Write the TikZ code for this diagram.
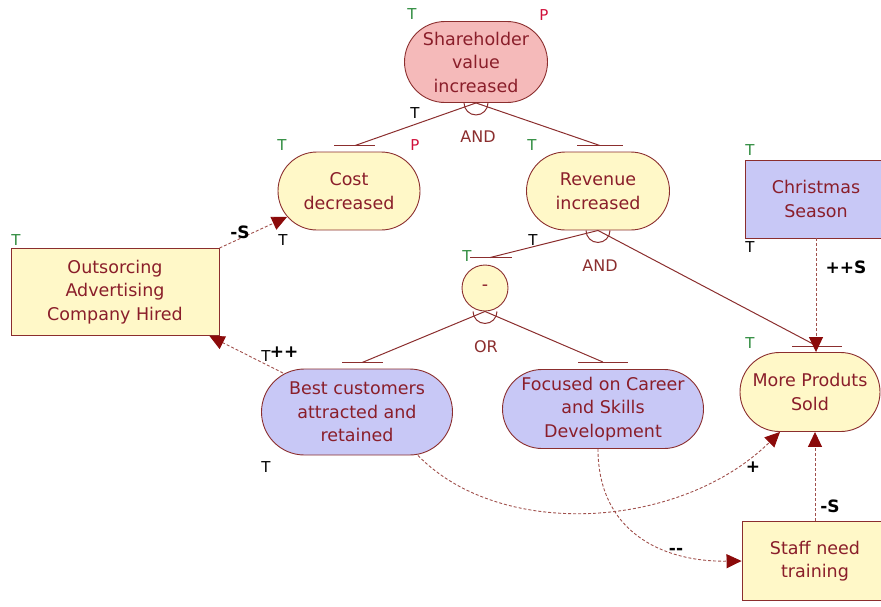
\documentclass[tikz,border=0pt]{standalone}
\usepackage{fontspec}
\setmainfont{DejaVu Sans}
\usetikzlibrary{arrows.meta,shapes.misc}

\definecolor{goalpink}{HTML}{F5BABA}
\definecolor{goalyellow}{HTML}{FFF8C8}
\definecolor{goalblue}{HTML}{C8C8F6}
\definecolor{edgered}{HTML}{8B2E2E}
\definecolor{textred}{HTML}{8A1E2A}
\definecolor{linkred}{HTML}{A0504C}
\definecolor{tipred}{HTML}{8B0A0A}
\definecolor{tgreen}{HTML}{2E8B3E}
\definecolor{pred}{HTML}{D0103A}

\tikzset{
  goalbox/.style={draw=edgered, line width=0.9pt, align=center, inner sep=0pt,
    text=textred, font=\fontsize{17.5}{23.5}\selectfont},
  softgoal/.style={goalbox, rounded rectangle},
  taskbox/.style={goalbox},
  decomp/.style={draw=edgered, line width=1pt},
  contrib/.style={draw=linkred, line width=0.9pt, dash pattern=on 3pt off 2pt,
    -{Triangle[length=15pt,width=14pt,color=tipred]}},
  linklabel/.style={font=\fontsize{17}{17}\selectfont\bfseries, inner sep=0pt},
  gatelabel/.style={text=edgered, font=\fontsize{16}{16}\selectfont, inner sep=0pt},
  tmark/.style={font=\fontsize{15}{15}\selectfont, inner sep=0pt},
}

\begin{document}
\begin{tikzpicture}[x=1pt,y=-1pt]
\useasboundingbox (0,0) rectangle (881,606);

% Nodes
\node[softgoal, fill=goalpink, minimum width=143pt, minimum height=81pt] (share) at (476,62) {Shareholder\\value\\increased};
\node[softgoal, fill=goalyellow, minimum width=142pt, minimum height=78pt] (cost) at (349,191) {Cost\\decreased};
\node[softgoal, fill=goalyellow, minimum width=143pt, minimum height=78pt] (rev) at (598,191) {Revenue\\increased};
\node[taskbox, fill=goalblue, minimum width=142pt, minimum height=78pt] (xmas) at (816,199) {Christmas\\Season};
\node[taskbox, fill=goalyellow, minimum width=208pt, minimum height=87pt] (outs) at (115,292) {Outsorcing\\Advertising\\Company Hired};
\node[goalbox, circle, fill=goalyellow, minimum size=46pt] (minus) at (485,288) {-};
\node[softgoal, fill=goalblue, minimum width=191pt, minimum height=86pt] (best) at (357,412) {Best customers\\attracted and\\retained};
\node[softgoal, fill=goalblue, minimum width=201pt, minimum height=79pt] (focus) at (603,409) {Focused on Career\\and Skills\\Development};
\node[softgoal, fill=goalyellow, minimum width=140pt, minimum height=79pt] (more) at (810,392) {More Produts\\Sold};
\node[taskbox, fill=goalyellow, minimum width=146pt, minimum height=79pt] (staff) at (815,561) {Staff need\\training};

% Bars
\coordinate (costbar) at ([shift={(6pt,6pt)}]cost.north);
\coordinate (revbar) at ([shift={(2pt,6pt)}]rev.north);
\coordinate (minusbar) at ([shift={(5pt,7pt)}]minus.north);
\coordinate (morebar) at ([shift={(7pt,6pt)}]more.north);
\coordinate (bestbar) at ([shift={(5pt,6pt)}]best.north);
\coordinate (focusbar) at ([shift={(0pt,7pt)}]focus.north);
\draw[decomp] ([xshift=-21pt]costbar) -- ([xshift=20pt]costbar);
\draw[decomp] ([xshift=-23pt]revbar) -- ([xshift=23pt]revbar);
\draw[decomp] ([xshift=-20pt]minusbar) -- ([xshift=22pt]minusbar);
\draw[decomp] ([xshift=-25pt]morebar) -- ([xshift=25pt]morebar);
\draw[decomp] ([xshift=-20pt]bestbar) -- ([xshift=21pt]bestbar);
\draw[decomp] ([xshift=-25pt]focusbar) -- ([xshift=25pt]focusbar);

% Decompositions
\draw[decomp] (share.south) -- (costbar);
\draw[decomp] (share.south) -- (revbar);
\draw[decomp] (rev.south) -- (minusbar);
\draw[decomp] (rev.south) -- (morebar);
\draw[decomp] (minus.south) -- (bestbar);
\draw[decomp] (minus.south) -- (focusbar);
\draw[decomp] ([xshift=-12pt]share.south) arc[start angle=180, end angle=360, radius=12pt];
\draw[decomp] ([xshift=-12pt]rev.south) arc[start angle=180, end angle=360, radius=12pt];
\draw[decomp] ([xshift=-12pt]minus.south) arc[start angle=180, end angle=360, radius=12pt];
\node[gatelabel] (andshare) at (478,137) {AND};
\node[gatelabel] (andrev) at (600,266) {AND};
\node[gatelabel] (orminus) at (486,347) {OR};

% Contributions
\draw[contrib] (outs.north east) -- ([shift={(-62pt,-26pt)}]cost.center);
\draw[contrib] ([shift={(-74pt,39pt)}]best.center) -- ([xshift=-10pt]outs.south east);
\draw[contrib] ([xshift=61pt]best.south) .. controls (500,540) and (680,530) .. ([xshift=-30pt]more.south);
\draw[contrib] ([xshift=-5pt]focus.south) .. controls (598,530) and (660,562) .. (staff.west);
\draw[contrib] (xmas.south) -- ([xshift=6pt]more.north);
\draw[contrib] (staff.north) -- ([xshift=5pt]more.south);
\node[linklabel] (lblcost) at (240,232) {-S};
\node[linklabel] (lblouts) at (284,352) {++};
\node[linklabel] (lblmore) at (753,467) {+};
\node[linklabel] (lblstaff) at (676,551) {{-}{-}};
\node[linklabel] (lblsold) at (830,506) {-S};
\node[linklabel] (lblxmas) at (846,267) {++S};

% Marks
\node[tmark, text=tgreen] (tshare) at (412,14) {T};
\node[tmark, text=pred] (pshare) at (544,15) {P};
\node[tmark] (tsharelink) at (415,113) {T};
\node[tmark, text=tgreen] (tcost) at (282,145) {T};
\node[tmark, text=pred] (pcost) at (415,145) {P};
\node[tmark] (tcostlow) at (283,240) {T};
\node[tmark, text=tgreen] (trev) at (532,145) {T};
\node[tmark] (trevlink) at (533,240) {T};
\node[tmark, text=tgreen] (tminus) at (467,256) {T};
\node[tmark, text=tgreen] (txmas) at (750,150) {T};
\node[tmark] (txmaslow) at (750,247) {T};
\node[tmark, text=tgreen] (touts) at (16,240) {T};
\node[tmark] (tbest) at (266,356) {T};
\node[tmark] (tbestlow) at (266,467) {T};
\node[tmark, text=tgreen] (tmore) at (750,343) {T};
\end{tikzpicture}
\end{document}
